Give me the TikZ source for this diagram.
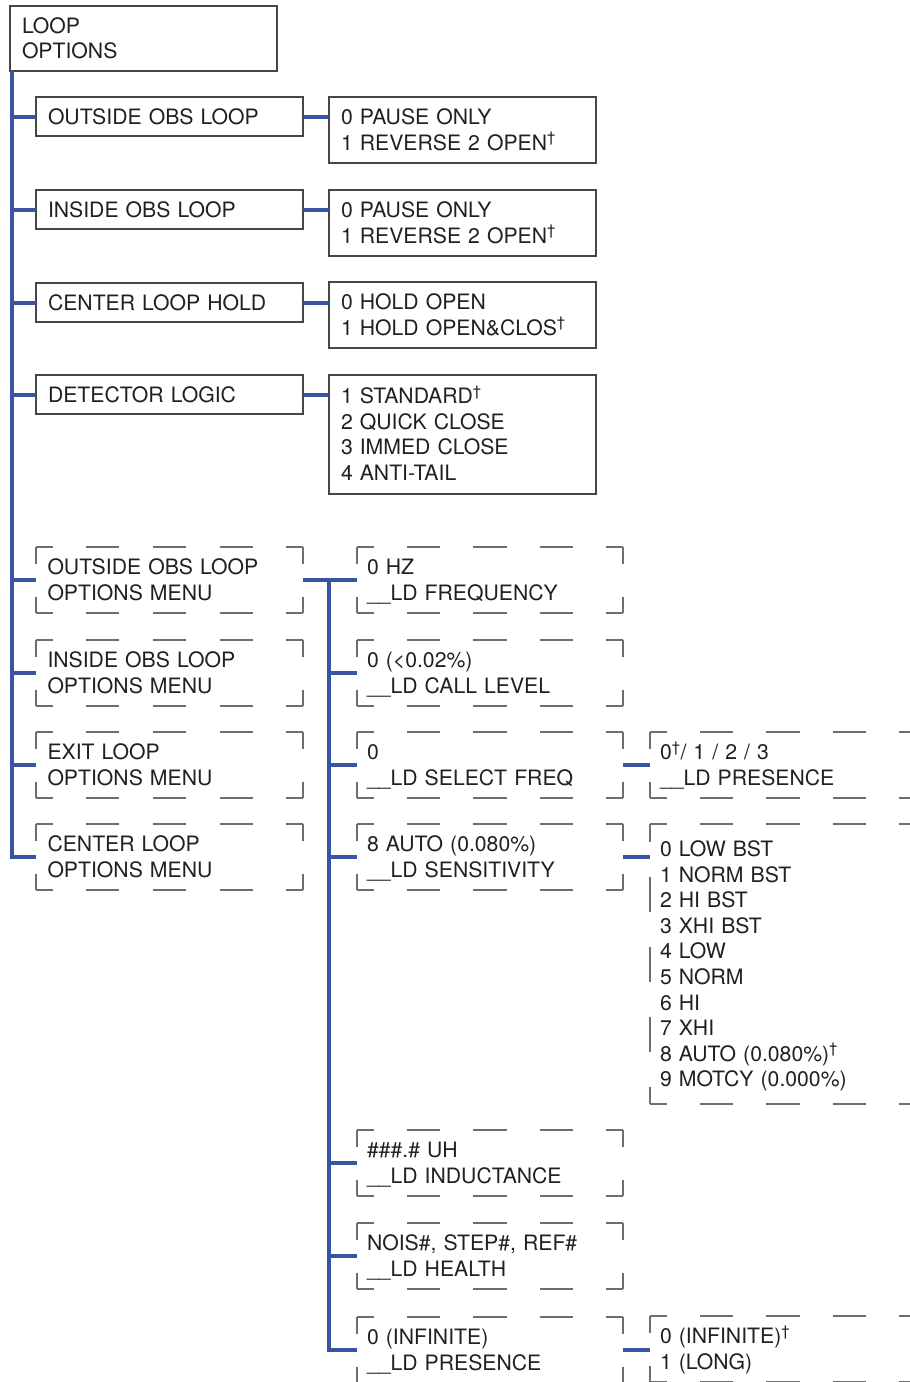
\documentclass[tikz,border=0pt]{standalone}
\usepackage{fontspec}
\setmainfont{TeX Gyre Heros}
\definecolor{lblue}{RGB}{57,84,163}
\definecolor{txt}{RGB}{35,31,32}
\definecolor{bord}{RGB}{70,70,70}
\definecolor{dbord}{RGB}{110,110,110}
\newcommand\mystrut{\rule[-5.2pt]{0pt}{25.6pt}}
\newcommand\dg{\textsuperscript{\textdagger}}
\newcommand\dframe[3]{%
  \pgfmathsetmacro\dh{#2}\pgfmathsetmacro\dhh{#2/2}%
  \pgfmathsetmacro\dv{#3}\pgfmathsetmacro\dvh{#3/2}%
  \draw[dfr, dash pattern=on \dh pt off \dh pt, dash phase=\dhh pt]
    (#1.north west) -- (#1.north east) (#1.south west) -- (#1.south east);
  \draw[dfr, dash pattern=on \dv pt off \dv pt, dash phase=\dvh pt]
    (#1.north west) -- (#1.south west) (#1.north east) -- (#1.south east);
}
\tikzset{
  base/.style={rectangle, anchor=north west, outer sep=0pt, inner ysep=0pt,
    align=left, text=txt, font=\fontsize{21.2}{25.6}\selectfont,
    execute at begin node=\mystrut, execute at end node=\mystrut},
  sbox/.style={base, draw=bord, line width=1.1pt, inner xsep=12pt,
    minimum width=267pt, text width=243pt},
  dbox/.style={base, inner xsep=10pt, minimum width=266pt, text width=246pt},
  dfr/.style={draw=dbord, line width=1.1pt},
  conn/.style={draw=lblue, line width=4pt},
}
\begin{document}
\begin{tikzpicture}[x=1pt,y=-1pt]
\useasboundingbox (0,0) rectangle (910,1382);
\clip (0,0) rectangle (910,1382);
% column 1 solid
\node[sbox, minimum height=65pt] (lo) at (10,6) {LOOP\\OPTIONS};
\node[sbox, minimum height=39pt] (oo) at (36,97) {OUTSIDE OBS LOOP};
\node[sbox, minimum height=39pt] (io) at (36,190) {INSIDE OBS LOOP};
\node[sbox, minimum height=39pt] (ch) at (36,283) {CENTER LOOP HOLD};
\node[sbox, minimum height=39pt] (dl) at (36,375) {DETECTOR LOGIC};
% column 2 solid
\node[sbox, minimum height=66pt] (ooo) at (329,97) {0 PAUSE ONLY\\1 REVERSE 2 OPEN\dg};
\node[sbox, minimum height=66pt] (ioo) at (329,190) {0 PAUSE ONLY\\1 REVERSE 2 OPEN\dg};
\node[sbox, minimum height=66pt] (cho) at (329,282) {0 HOLD OPEN\\1 HOLD OPEN\&CLOS\dg};
\node[sbox, minimum height=119pt] (dlo) at (329,375) {1 STANDARD\dg\\2 QUICK CLOSE\\3 IMMED CLOSE\\4 ANTI-TAIL};
% column 1 dashed
\node[dbox, minimum width=267pt, text width=244pt, inner xsep=11.5pt, minimum height=66pt] (cd1) at (36,547) {OUTSIDE OBS LOOP\\OPTIONS MENU};
\node[dbox, minimum width=267pt, text width=244pt, inner xsep=11.5pt, minimum height=66pt] (cd2) at (36,640) {INSIDE OBS LOOP\\OPTIONS MENU};
\node[dbox, minimum width=267pt, text width=244pt, inner xsep=11.5pt, minimum height=66pt] (cd3) at (36,732) {EXIT LOOP\\OPTIONS MENU};
\node[dbox, minimum width=267pt, text width=244pt, inner xsep=11.5pt, minimum height=66pt] (cd4) at (36,824) {CENTER LOOP\\OPTIONS MENU};
% column 2 dashed
\node[dbox, minimum height=66pt] (dz1) at (357,547) {0 HZ\\\_\_LD FREQUENCY};
\node[dbox, minimum height=66pt] (dz2) at (357,640) {0 (<0.02\%)\\\_\_LD CALL LEVEL};
\node[dbox, minimum height=66pt] (dz3) at (357,732) {0\\\_\_LD SELECT FREQ};
\node[dbox, minimum height=66pt] (dz4) at (357,824) {8 AUTO (0.080\%)\\\_\_LD SENSITIVITY};
\node[dbox, minimum height=66pt] (dz5) at (357,1130) {\#\#\#.\# UH\\\_\_LD INDUCTANCE};
\node[dbox, minimum height=66pt] (dz6) at (357,1223) {NOIS\#, STEP\#, REF\#\\\_\_LD HEALTH};
\node[dbox, minimum height=66pt] (dz7) at (357,1317) {0 (INFINITE)\\\_\_LD PRESENCE};
% column 3 dashed
\node[dbox, minimum height=66pt] (dp) at (650,732) {0\dg/ 1 / 2 / 3\\\_\_LD PRESENCE};
\node[dbox, minimum height=280pt] (ds) at (650,824) {0 LOW BST\\1 NORM BST\\2 HI BST\\3 XHI BST\\4 LOW\\5 NORM\\6 HI\\7 XHI\\8 AUTO (0.080\%)\dg\\9 MOTCY (0.000\%)};
\node[dbox, minimum height=66pt] (dq) at (650,1316) {0 (INFINITE)\dg\\1 (LONG)};
% dashed frames
\foreach \n in {cd1,cd2,cd3,cd4}{\dframe{\n}{33.375}{33}}
\foreach \n in {dz1,dz2,dz3,dz4,dz5,dz6,dz7,dp,dq}{\dframe{\n}{33.25}{33}}
\dframe{ds}{33.25}{35}
% connectors
\coordinate (t1) at ([xshift=2pt]lo.south west);
\draw[conn] (t1) |- (cd4.west);
\foreach \n in {oo,io,ch,dl,cd1,cd2,cd3}{\draw[conn] (t1 |- \n.west) -- (\n.west);}
\draw[conn] (oo.east) -- (oo.east -| ooo.west);
\draw[conn] (io.east) -- (io.east -| ioo.west);
\draw[conn] (ch.east) -- (ch.east -| cho.west);
\draw[conn] (dl.east) -- (dl.east -| dlo.west);
\draw[conn] (cd1.east) -- (dz1.west);
\coordinate (t2) at (ooo.west |- cd1.east);
\draw[conn] (t2) |- (dz7.west);
\foreach \n in {dz2,dz3,dz4,dz5,dz6}{\draw[conn] (t2 |- \n.west) -- (\n.west);}
\draw[conn] (dz3.east) -- (dz3.east -| dp.west);
\draw[conn] (dz4.east) -- (dz4.east -| ds.west);
\draw[conn] (dz7.east) -- (dz7.east -| dq.west);
\end{tikzpicture}
\end{document}
